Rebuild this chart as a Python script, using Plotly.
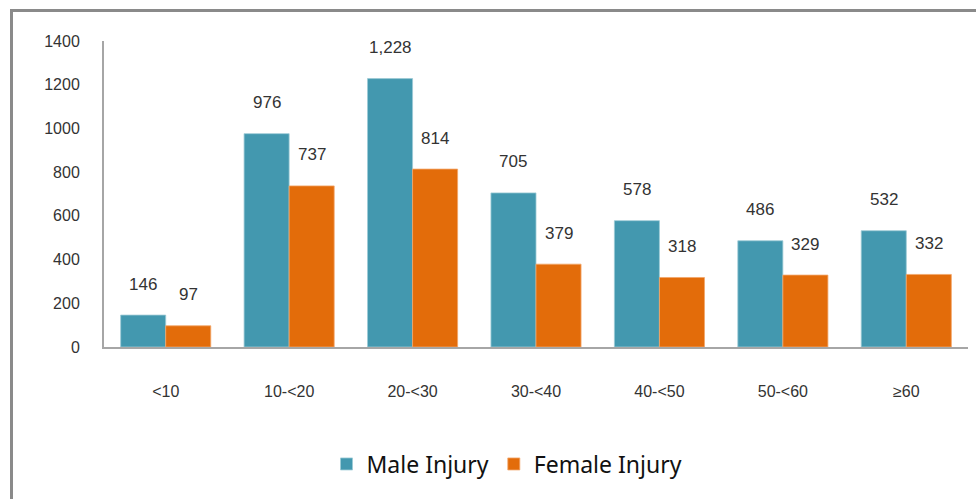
import plotly.graph_objects as go

age_groups = ["<10", "10-<20", "20-<30", "30-<40", "40-<50", "50-<60", "≥60"]
male_injury = [146, 976, 1228, 705, 578, 486, 532]
female_injury = [97, 737, 814, 379, 318, 329, 332]

MALE_COLOR = "#4398AF"
FEMALE_COLOR = "#E36C0A"
TEXT_FONT = "Liberation Sans, Arial"

# plot area in pixels (976 x 499 page)
L, R, T, B = 104, 968, 41, 347
W, H = 976, 499

fig = go.Figure()
fig.add_trace(go.Bar(x=age_groups, y=male_injury, name="Male Injury",
                     marker=dict(color=MALE_COLOR, line=dict(color="#9CCAD6", width=0.8))))
fig.add_trace(go.Bar(x=age_groups, y=female_injury, name="Female Injury",
                     marker=dict(color=FEMALE_COLOR, line=dict(color="#F2A66A", width=0.8))))

# value labels floating above each bar
half = (R - L) / len(age_groups) * (1 - 0.27) / 4
for vals, shift in ((male_injury, -half), (female_injury, half)):
    for cat, v in zip(age_groups, vals):
        fig.add_annotation(x=cat, y=v, text=f"{v:,}", showarrow=False,
                           xshift=shift, yshift=31, yanchor="middle",
                           font=dict(family=TEXT_FONT, size=17, color="#333333"))

def px(x):
    return (x - L) / (R - L)

def py(y):
    return (B - y) / (B - T)

# outer frame (left and top edges)
frame = dict(color="#8A8A8A", width=3)
fig.add_shape(type="line", xref="paper", yref="paper",
              x0=px(11.5), x1=px(11.5), y0=py(10), y1=py(510), line=frame)
fig.add_shape(type="line", xref="paper", yref="paper",
              x0=px(10), x1=px(990), y0=py(10.5), y1=py(10.5), line=frame)

fig.update_layout(
    width=W, height=H,
    margin=dict(l=L, r=W - R, t=T, b=H - B),
    paper_bgcolor="white", plot_bgcolor="white",
    barmode="group", bargap=0.27, bargroupgap=0,
    showlegend=True,
    legend=dict(orientation="h", x=px(507), xanchor="center", y=py(464), yanchor="middle",
                font=dict(family="Noto Sans, Open Sans", size=23, color="#111111"),
                itemwidth=30, traceorder="normal"),
    xaxis=dict(showline=True, linecolor="#A6A6A6", linewidth=2, ticks="",
               ticklabelstandoff=29,
               tickfont=dict(family=TEXT_FONT, size=16, color="#333333")),
    yaxis=dict(range=[0, 1400], dtick=200, showgrid=False, zeroline=False,
               showline=True, linecolor="#A6A6A6", linewidth=2, ticks="",
               ticklabelstandoff=19,
               tickfont=dict(family=TEXT_FONT, size=16, color="#333333")),
)

fig.write_html("out.html")
